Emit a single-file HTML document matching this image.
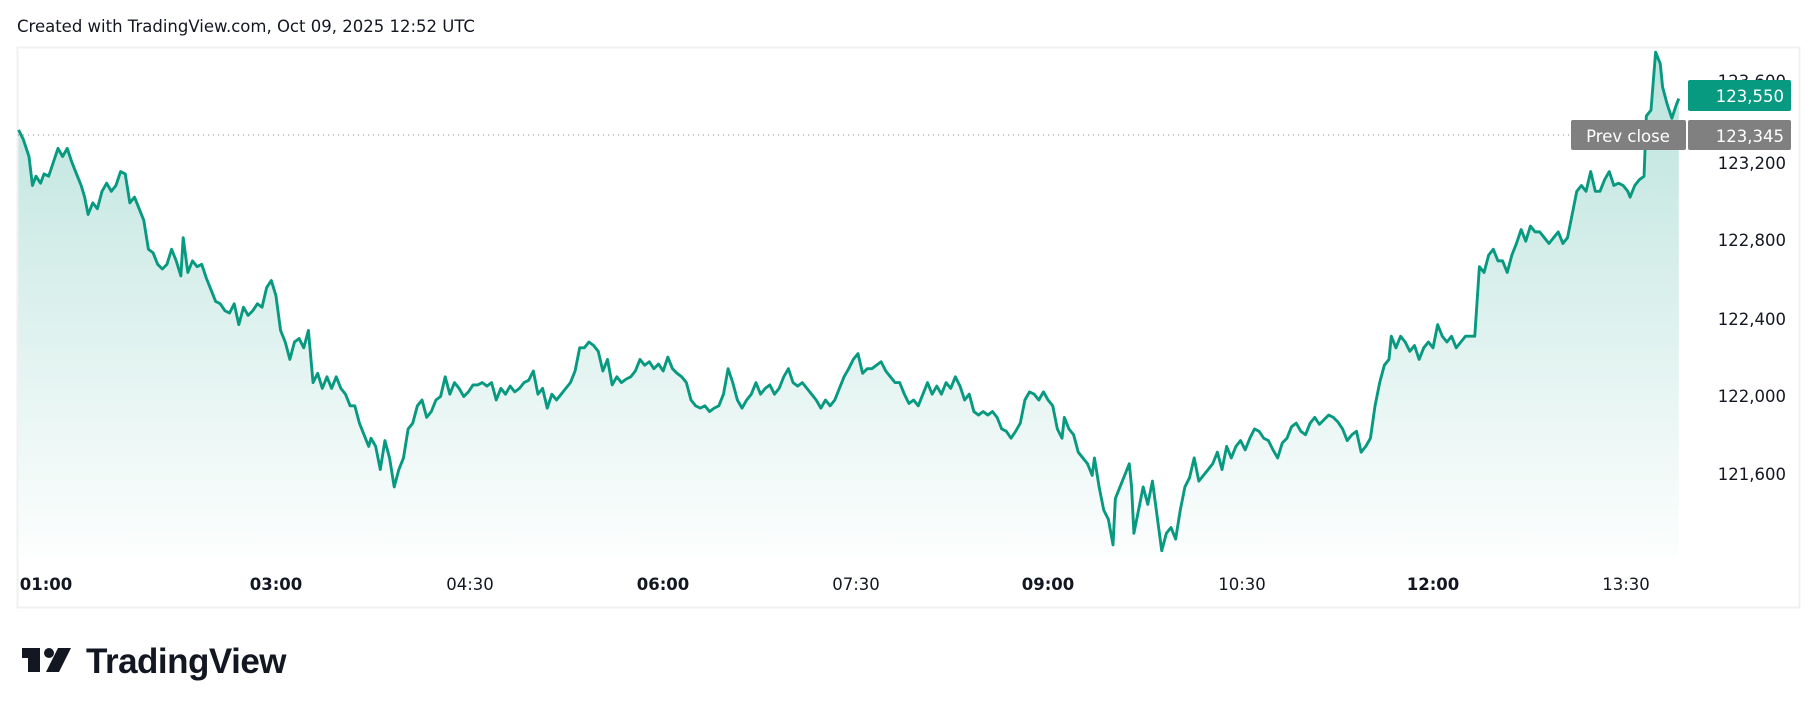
<!DOCTYPE html>
<html><head><meta charset="utf-8"><style>
body{margin:0;width:1818px;height:713px;background:#fff;overflow:hidden;font-family:"DejaVu Sans","Liberation Sans",sans-serif;}
</style></head><body>
<svg width="1818" height="713" viewBox="0 0 1818 713" xmlns="http://www.w3.org/2000/svg" style="position:absolute;left:0;top:0">
<defs><linearGradient id="g" gradientUnits="userSpaceOnUse" x1="0" y1="40" x2="0" y2="480"><stop offset="0" stop-color="#089981" stop-opacity="0.28"/><stop offset="1" stop-color="#089981" stop-opacity="0.01"/></linearGradient>
<path id="p" d="M16,112 L20,120 L25,135 L28,160 L31,152 L35,158 L38,150 L42,152 L46,140 L50,128 L54,135 L58,128 L62,140 L66,150 L70,160 L73,170 L76,185 L80,175 L84,180 L88,165 L92,158 L96,165 L100,160 L104,148 L108,150 L112,175 L116,170 L120,180 L124,190 L128,215 L132,218 L136,228 L140,232 L144,228 L148,215 L152,225 L156,238 L158,205 L162,235 L166,225 L170,230 L174,228 L178,240 L182,250 L186,260 L190,262 L194,268 L198,270 L202,262 L206,280 L210,265 L214,272 L218,268 L222,262 L226,265 L230,248 L234,242 L238,255 L242,285 L246,295 L250,310 L254,295 L258,292 L262,300 L266,285 L270,330 L274,322 L278,335 L282,325 L286,335 L290,325 L294,335 L298,340 L302,350 L306,350 L310,365 L314,375 L318,385 L320,378 L324,385 L328,405 L332,380 L336,395 L340,420 L344,405 L348,395 L352,370 L356,365 L360,350 L364,345 L368,360 L372,355 L376,345 L380,342 L384,325 L388,340 L392,330 L396,335 L400,342 L404,338 L408,332 L412,332 L416,330 L420,333 L424,330 L428,345 L432,335 L436,340 L440,333 L444,338 L448,335 L452,330 L456,328 L460,320 L464,340 L468,335 L472,352 L476,340 L480,345 L484,340 L488,335 L492,330 L496,320 L500,300 L504,300 L508,295 L512,298 L516,303 L520,320 L524,310 L528,332 L532,325 L536,330 L540,327 L544,325 L548,320 L552,310 L556,315 L560,312 L564,318 L568,314 L572,320 L576,308 L580,318 L584,322 L588,325 L592,330 L596,345 L600,350 L604,352 L608,350 L612,355 L616,352 L620,350 L624,340 L628,318 L632,330 L636,345 L640,352 L644,345 L648,340 L652,330 L656,340 L660,335 L664,332 L668,340 L672,335 L676,325 L680,318 L684,330 L688,333 L692,330 L696,335 L700,340 L704,345 L708,352 L712,345 L716,350 L720,345 L724,335 L728,325 L732,318 L736,310 L740,305 L744,322 L748,318 L752,318 L756,315 L760,312 L764,320 L768,325 L772,330 L776,330 L780,340 L784,348 L788,345 L792,350 L796,340 L800,330 L804,340 L808,333 L812,340 L816,330 L820,335 L824,325 L828,333 L832,345 L836,340 L840,355 L844,358 L848,355 L852,358 L856,355 L860,360 L864,370 L868,372 L872,378 L876,372 L880,365 L884,345 L888,338 L892,340 L896,345 L900,338 L904,345 L908,350 L912,370 L916,378 L918,360 L922,370 L926,375 L930,390 L934,395 L938,400 L942,410 L944,395 L948,420 L952,440 L956,448 L960,470 L962,430 L966,420 L970,410 L974,400 L976,420 L978,460 L982,440 L986,420 L990,435 L994,415 L998,445 L1002,475 L1006,460 L1010,455 L1014,465 L1018,440 L1022,420 L1026,412 L1030,395 L1034,415 L1038,410 L1042,405 L1046,400 L1050,390 L1054,405 L1058,385 L1062,395 L1066,385 L1070,380 L1074,388 L1078,378 L1082,370 L1086,372 L1090,378 L1094,380 L1098,388 L1102,395 L1106,382 L1110,378 L1114,368 L1118,365 L1122,372 L1126,375 L1130,365 L1134,360 L1138,366 L1142,362 L1146,358 L1150,360 L1154,364 L1158,370 L1162,380 L1166,375 L1170,372 L1174,390 L1178,385 L1182,378 L1186,350 L1190,330 L1194,315 L1198,310 L1200,290 L1204,300 L1208,290 L1212,295 L1216,303 L1220,298 L1224,310 L1228,300 L1232,295 L1236,300 L1240,280 L1244,290 L1248,295 L1252,290 L1256,300 L1260,295 L1264,290 L1268,290 L1272,290 L1276,230 L1280,235 L1284,220 L1288,215 L1292,225 L1296,225 L1300,235 L1304,220 L1308,210 L1312,198 L1316,208 L1320,195 L1324,200 L1328,200 L1332,205 L1336,210 L1340,205 L1344,200 L1348,210 L1352,205 L1356,185 L1360,165 L1364,160 L1368,165 L1372,148 L1376,165 L1380,165 L1384,155 L1388,148 L1392,160 L1396,158 L1400,160 L1404,165 L1406,170 L1410,160 L1414,155 L1418,152 L1420,100 L1424,95 L1428,45 L1432,55 L1434,75 L1438,90 L1442,102 L1446,90 L1448,85"/>
</defs>
<text x="17" y="32" font-size="16.5" fill="#131722">Created with TradingView.com, Oct 09, 2025 12:52 UTC</text>
<rect x="17.5" y="47.5" width="1782" height="560" fill="none" stroke="#f0f0f0" stroke-width="2"/>
<line x1="18" y1="135" x2="1570" y2="135" stroke="#888" stroke-width="1" stroke-dasharray="1,4"/>
<g transform="scale(1.1594)">
<path fill="url(#g)" stroke="none" d="M16,480 L16,112 L20,120 L25,135 L28,160 L31,152 L35,158 L38,150 L42,152 L46,140 L50,128 L54,135 L58,128 L62,140 L66,150 L70,160 L73,170 L76,185 L80,175 L84,180 L88,165 L92,158 L96,165 L100,160 L104,148 L108,150 L112,175 L116,170 L120,180 L124,190 L128,215 L132,218 L136,228 L140,232 L144,228 L148,215 L152,225 L156,238 L158,205 L162,235 L166,225 L170,230 L174,228 L178,240 L182,250 L186,260 L190,262 L194,268 L198,270 L202,262 L206,280 L210,265 L214,272 L218,268 L222,262 L226,265 L230,248 L234,242 L238,255 L242,285 L246,295 L250,310 L254,295 L258,292 L262,300 L266,285 L270,330 L274,322 L278,335 L282,325 L286,335 L290,325 L294,335 L298,340 L302,350 L306,350 L310,365 L314,375 L318,385 L320,378 L324,385 L328,405 L332,380 L336,395 L340,420 L344,405 L348,395 L352,370 L356,365 L360,350 L364,345 L368,360 L372,355 L376,345 L380,342 L384,325 L388,340 L392,330 L396,335 L400,342 L404,338 L408,332 L412,332 L416,330 L420,333 L424,330 L428,345 L432,335 L436,340 L440,333 L444,338 L448,335 L452,330 L456,328 L460,320 L464,340 L468,335 L472,352 L476,340 L480,345 L484,340 L488,335 L492,330 L496,320 L500,300 L504,300 L508,295 L512,298 L516,303 L520,320 L524,310 L528,332 L532,325 L536,330 L540,327 L544,325 L548,320 L552,310 L556,315 L560,312 L564,318 L568,314 L572,320 L576,308 L580,318 L584,322 L588,325 L592,330 L596,345 L600,350 L604,352 L608,350 L612,355 L616,352 L620,350 L624,340 L628,318 L632,330 L636,345 L640,352 L644,345 L648,340 L652,330 L656,340 L660,335 L664,332 L668,340 L672,335 L676,325 L680,318 L684,330 L688,333 L692,330 L696,335 L700,340 L704,345 L708,352 L712,345 L716,350 L720,345 L724,335 L728,325 L732,318 L736,310 L740,305 L744,322 L748,318 L752,318 L756,315 L760,312 L764,320 L768,325 L772,330 L776,330 L780,340 L784,348 L788,345 L792,350 L796,340 L800,330 L804,340 L808,333 L812,340 L816,330 L820,335 L824,325 L828,333 L832,345 L836,340 L840,355 L844,358 L848,355 L852,358 L856,355 L860,360 L864,370 L868,372 L872,378 L876,372 L880,365 L884,345 L888,338 L892,340 L896,345 L900,338 L904,345 L908,350 L912,370 L916,378 L918,360 L922,370 L926,375 L930,390 L934,395 L938,400 L942,410 L944,395 L948,420 L952,440 L956,448 L960,470 L962,430 L966,420 L970,410 L974,400 L976,420 L978,460 L982,440 L986,420 L990,435 L994,415 L998,445 L1002,475 L1006,460 L1010,455 L1014,465 L1018,440 L1022,420 L1026,412 L1030,395 L1034,415 L1038,410 L1042,405 L1046,400 L1050,390 L1054,405 L1058,385 L1062,395 L1066,385 L1070,380 L1074,388 L1078,378 L1082,370 L1086,372 L1090,378 L1094,380 L1098,388 L1102,395 L1106,382 L1110,378 L1114,368 L1118,365 L1122,372 L1126,375 L1130,365 L1134,360 L1138,366 L1142,362 L1146,358 L1150,360 L1154,364 L1158,370 L1162,380 L1166,375 L1170,372 L1174,390 L1178,385 L1182,378 L1186,350 L1190,330 L1194,315 L1198,310 L1200,290 L1204,300 L1208,290 L1212,295 L1216,303 L1220,298 L1224,310 L1228,300 L1232,295 L1236,300 L1240,280 L1244,290 L1248,295 L1252,290 L1256,300 L1260,295 L1264,290 L1268,290 L1272,290 L1276,230 L1280,235 L1284,220 L1288,215 L1292,225 L1296,225 L1300,235 L1304,220 L1308,210 L1312,198 L1316,208 L1320,195 L1324,200 L1328,200 L1332,205 L1336,210 L1340,205 L1344,200 L1348,210 L1352,205 L1356,185 L1360,165 L1364,160 L1368,165 L1372,148 L1376,165 L1380,165 L1384,155 L1388,148 L1392,160 L1396,158 L1400,160 L1404,165 L1406,170 L1410,160 L1414,155 L1418,152 L1420,100 L1424,95 L1428,45 L1432,55 L1434,75 L1438,90 L1442,102 L1446,90 L1448,85 L1448,480 Z"/>
<use href="#p" fill="none" stroke="#089981" stroke-width="2.5" stroke-linejoin="round"/>
</g>
<g font-size="16.5" fill="#131722" text-anchor="end">
<text x="1786" y="87">123,600</text>
<text x="1786" y="169">123,200</text>
<text x="1786" y="246">122,800</text>
<text x="1786" y="325">122,400</text>
<text x="1786" y="402">122,000</text>
<text x="1786" y="480">121,600</text>
</g>
<rect x="1688" y="80" width="103" height="31" rx="2" fill="#089981"/>
<text x="1784" y="102" font-size="16.5" fill="#fff" text-anchor="end">123,550</text>
<rect x="1571" y="120" width="115" height="30" rx="2" fill="#808080"/>
<text x="1628" y="142" font-size="16.5" fill="#fff" text-anchor="middle">Prev close</text>
<rect x="1688" y="120" width="103" height="30" rx="2" fill="#808080"/>
<text x="1784" y="142" font-size="16.5" fill="#fff" text-anchor="end">123,345</text>
<g font-size="16.5" fill="#131722" text-anchor="middle">
<text x="46" y="590" style="font-weight:bold">01:00</text>
<text x="276" y="590" style="font-weight:bold">03:00</text>
<text x="470" y="590">04:30</text>
<text x="663" y="590" style="font-weight:bold">06:00</text>
<text x="856" y="590">07:30</text>
<text x="1048" y="590" style="font-weight:bold">09:00</text>
<text x="1242" y="590">10:30</text>
<text x="1433" y="590" style="font-weight:bold">12:00</text>
<text x="1626" y="590">13:30</text>
</g>
<g fill="#131722">
<rect x="22" y="648" width="18" height="10"/>
<rect x="28" y="648" width="12" height="24"/>
<circle cx="49" cy="653" r="5"/>
<polygon points="58,648 71,648 59,672 46,672"/>
<text x="86" y="673" font-size="35" font-weight="bold" letter-spacing="-0.5" font-family="Liberation Sans, sans-serif">TradingView</text>
</g>
</svg>
</body></html>
